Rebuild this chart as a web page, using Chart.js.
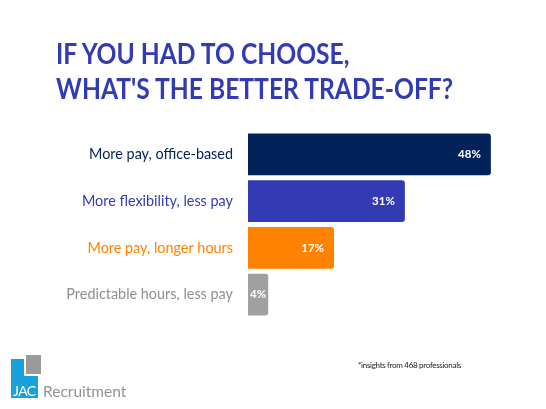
<!DOCTYPE html>
<html>
<head>
<meta charset="utf-8">
<script src="https://cdn.jsdelivr.net/npm/chart.js@4"></script>
<style>
  html, body { margin: 0; padding: 0; background: #fff; }
  #wrap { position: relative; width: 546px; height: 409px; overflow: hidden; }
  #title { position: absolute; left: 56px; top: 36px; font: bold 28px/35px Lato, sans-serif; color: #333bb4; white-space: nowrap; transform: scaleX(0.88); transform-origin: left top; }
  #note { position: absolute; left: 358px; top: 360px; font: 8px Lato, sans-serif; letter-spacing: -0.3px; color: #222; white-space: nowrap; }
  #logo { position: absolute; left: 11px; top: 355px; width: 120px; height: 45px; }
  #logo .blue { position: absolute; left: 0; top: 4px; width: 27px; height: 39px; background: #1aa0dc; }
  #logo .piece { position: absolute; left: 13px; top: 0; width: 15px; height: 19px; background: #9a9a9a; border-left: 2px solid #fff; border-bottom: 2px solid #fff; }
  #logo .jac { position: absolute; left: 2px; top: 27px; font: 14px Lato, sans-serif; color: #fff; letter-spacing: -0.6px; }
  #logo .rec { position: absolute; left: 32px; top: 27px; font: 15.5px Lato, sans-serif; color: #929292; }
</style>
</head>
<body>
<div id="wrap">
  <canvas id="chart" width="546" height="409"></canvas>
  <div id="title"></div>
  <div id="note">*insights from 468 professionals</div>
  <div id="logo"><div class="blue"></div><div class="piece"></div><div class="jac">JAC</div><div class="rec">Recruitment</div></div>
</div>
<script>
const titleLines = ['IF YOU HAD TO CHOOSE,', "WHAT'S THE BETTER TRADE-OFF?"];
const categories = ['More pay, office-based', 'More flexibility, less pay', 'More pay, longer hours', 'Predictable hours, less pay'];
const shares = [48, 31, 17, 4];
const barColors = ['#03225a', '#333bb4', '#ff8300', '#a0a0a0'];
const labelColors = ['#03225a', '#333bb4', '#ff8300', '#8f8f8f'];

document.getElementById('title').innerHTML = titleLines.join('<br>');

// white % labels drawn inside the end of each bar
const valueLabels = {
  id: 'valueLabels',
  afterDatasetsDraw(chart) {
    const ctx = chart.ctx;
    const meta = chart.getDatasetMeta(0);
    ctx.save();
    ctx.font = 'bold 11.5px Lato, sans-serif';
    ctx.fillStyle = '#fff';
    ctx.textBaseline = 'middle';
    meta.data.forEach((bar, i) => {
      const txt = shares[i] + '%';
      const w = bar.x - bar.base;
      if (w < 30) {
        ctx.textAlign = 'center';
        ctx.fillText(txt, (bar.x + bar.base) / 2, bar.y);
      } else {
        ctx.textAlign = 'right';
        ctx.fillText(txt, bar.x - 10, bar.y);
      }
    });
    ctx.restore();
  }
};

new Chart(document.getElementById('chart'), {
  type: 'bar',
  data: {
    labels: categories,
    datasets: [{
      data: shares,
      backgroundColor: barColors,
      borderRadius: 3,
      borderSkipped: 'start',
      barPercentage: 0.89,
      categoryPercentage: 1
    }]
  },
  plugins: [valueLabels],
  options: {
    indexAxis: 'y',
    responsive: false,
    animation: false,
    layout: { padding: { left: 56, right: 45, top: 131, bottom: 91 } },
    plugins: {
      legend: { display: false },
      tooltip: { enabled: false },
      title: { display: false }
    },
    scales: {
      x: { display: false, min: 0, max: 50 },
      y: {
        afterFit(scale) { scale.width = 192; },
        grid: { display: false, drawTicks: false },
        border: { display: false },
        ticks: {
          padding: 15,
          color: labelColors,
          font: { family: 'Lato, sans-serif', size: 14.4 }
        }
      }
    }
  }
});
</script>
</body>
</html>
